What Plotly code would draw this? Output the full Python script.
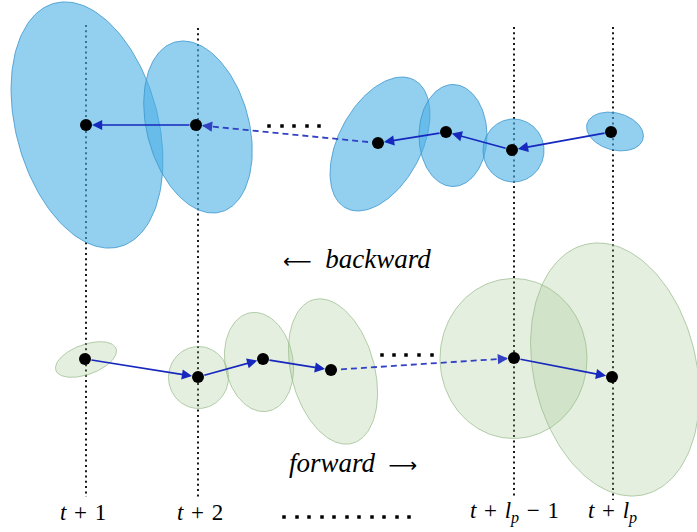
import numpy as np
import plotly.graph_objects as go

W, H = 697, 532

# Vertical time-step guides (x position, top and bottom ends) and their labels
step_x = [86, 198, 514, 613]
step_top = [25, 28, 27, 27]
step_bottom = [497, 498, 498, 500]
label_x = [83, 200, 514, 612]
label_y = 512
SP = "\u2004"
step_labels = [
    f"<i>t</i>{SP}+{SP}1",
    f"<i>t</i>{SP}+{SP}2",
    f"<i>t</i>{SP}+{SP}<i>l</i><sub><i>p</i></sub>{SP}\u2212{SP}1",
    f"<i>t</i>{SP}+{SP}<i>l</i><sub><i>p</i></sub>",
]

# Backward pass: state means and covariance ellipses (semi-axes a, b; tilt of major axis from vertical, deg)
bwd_x = [86, 196, 378, 446, 512, 611]
bwd_y = [125, 125, 143, 132, 150, 132]
bwd_cx = [87, 198, 380, 453, 513.5, 615]
bwd_cy = [125, 127, 144, 135.5, 150.5, 131.5]
bwd_a = [126, 88, 72.6, 51, 31.5, 29]
bwd_b = [71, 51, 41.4, 34, 30.5, 18.5]
bwd_tilt = [15, 15, -28, 0, 0, 75]
bwd_dashed = [False, True, False, False, False]  # link i joins state i+1 -> i

# Forward pass: state means and covariance ellipses
fwd_x = [85, 198, 263, 331, 514, 612]
fwd_y = [359, 377, 359, 370, 358, 377]
fwd_cx = [86, 198.5, 259, 333, 513.5, 615]
fwd_cy = [359.5, 377.5, 362, 371.5, 358.5, 369.5]
fwd_a = [32, 31, 50, 74.4, 80, 128.5]
fwd_b = [15, 30, 34, 41.6, 73.5, 81.4]
fwd_tilt = [110, 0, 10, 15, 0, 13]
fwd_dashed = [False, False, False, True, False]  # link i joins state i -> i+1

# Ellipsis dots
top_dots_x = [269, 282, 294, 307, 319]
top_dots_y = 126
mid_dots_x = [382, 394, 406, 419, 432]
mid_dots_y = 355
axis_dots_x = [284, 297, 309, 322, 334, 347, 359, 372, 384, 397, 409]
axis_dots_y = 517

ARROW = "rgb(22,40,190)"
DASHED = "rgb(50,65,195)"

fig = go.Figure()


def ellipse_xy(cx, cy, a, b, tilt_deg):
    t = np.linspace(0, 2 * np.pi, 181)
    th = np.radians(tilt_deg)
    ux, uy = -np.sin(th), -np.cos(th)   # major axis direction (screen coords)
    vx, vy = np.cos(th), -np.sin(th)    # minor axis direction
    x = cx + a * np.cos(t) * ux + b * np.sin(t) * vx
    y = cy + a * np.cos(t) * uy + b * np.sin(t) * vy
    return x, y


# dotted time-step guides
for x, y0, y1 in zip(step_x, step_top, step_bottom):
    fig.add_trace(go.Scatter(
        x=[x, x], y=[y0, y1], mode="lines",
        line=dict(color="rgb(25,25,25)", width=2, dash="2px,3.3px"),
        hoverinfo="skip"))

# covariance ellipses
for cx, cy, a, b, tl in zip(bwd_cx, bwd_cy, bwd_a, bwd_b, bwd_tilt):
    ex, ey = ellipse_xy(cx, cy, a, b, tl)
    fig.add_trace(go.Scatter(
        x=ex, y=ey, mode="lines", fill="toself",
        fillcolor="rgba(75,175,228,0.6)",
        line=dict(color="rgba(60,150,205,0.8)", width=1),
        hoverinfo="skip"))

for cx, cy, a, b, tl in zip(fwd_cx, fwd_cy, fwd_a, fwd_b, fwd_tilt):
    ex, ey = ellipse_xy(cx, cy, a, b, tl)
    fig.add_trace(go.Scatter(
        x=ex, y=ey, mode="lines", fill="toself",
        fillcolor="rgba(150,190,130,0.25)",
        line=dict(color="rgba(150,185,135,0.7)", width=1),
        hoverinfo="skip"))


# arrows between consecutive states
def add_link(x0, y0, x1, y1, dashed):
    if dashed:
        fig.add_trace(go.Scatter(
            x=[x0, x1], y=[y0, y1], mode="lines",
            line=dict(color=DASHED, width=1.8, dash="6px,4px"),
            hoverinfo="skip"))
        d = np.hypot(x1 - x0, y1 - y0)
        ax = x1 - (x1 - x0) / d * 16
        ay = y1 - (y1 - y0) / d * 16
        fig.add_annotation(x=x1, y=y1, ax=ax, ay=ay, xref="x", yref="y",
                           axref="x", ayref="y", showarrow=True, text="",
                           arrowhead=2, arrowsize=1.2, arrowwidth=1.7,
                           arrowcolor=DASHED, standoff=6)
    else:
        fig.add_annotation(x=x1, y=y1, ax=x0, ay=y0, xref="x", yref="y",
                           axref="x", ayref="y", showarrow=True, text="",
                           arrowhead=2, arrowsize=1.2, arrowwidth=1.7,
                           arrowcolor=ARROW, standoff=6, startstandoff=5)


for i, dashed in enumerate(bwd_dashed):
    add_link(bwd_x[i + 1], bwd_y[i + 1], bwd_x[i], bwd_y[i], dashed)
for i, dashed in enumerate(fwd_dashed):
    add_link(fwd_x[i], fwd_y[i], fwd_x[i + 1], fwd_y[i + 1], dashed)

# state means
fig.add_trace(go.Scatter(x=bwd_x, y=bwd_y, mode="markers",
                         marker=dict(color="black", size=12), hoverinfo="skip"))
fig.add_trace(go.Scatter(x=fwd_x, y=fwd_y, mode="markers",
                         marker=dict(color="black", size=12), hoverinfo="skip"))

# ellipsis dots
for xs, y in ((top_dots_x, top_dots_y), (mid_dots_x, mid_dots_y), (axis_dots_x, axis_dots_y)):
    fig.add_trace(go.Scatter(x=xs, y=[y] * len(xs), mode="markers",
                             marker=dict(color="black", size=3.5, symbol="square"),
                             hoverinfo="skip"))

SERIF = "Liberation Serif"
ARROW_SPAN = '<span style="font-family:DejaVu Sans;font-size:20px">{}</span>'
for x, txt in zip(label_x, step_labels):
    fig.add_annotation(x=x, y=label_y, xref="x", yref="y", text=txt,
                       showarrow=False, font=dict(family=SERIF, size=23, color="black"))

fig.add_annotation(x=357, y=259, xref="x", yref="y", showarrow=False,
                   text=ARROW_SPAN.format("\u27f5") + "\u2002<i>backward</i>",
                   font=dict(family=SERIF, size=27, color="black"))
fig.add_annotation(x=353, y=463, xref="x", yref="y", showarrow=False,
                   text="<i>forward</i>\u2002" + ARROW_SPAN.format("\u27f6"),
                   font=dict(family=SERIF, size=27, color="black"))

fig.update_layout(
    width=W, height=H,
    margin=dict(l=0, r=0, t=0, b=0),
    paper_bgcolor="white", plot_bgcolor="white",
    showlegend=False,
    xaxis=dict(range=[0, W], visible=False, fixedrange=True),
    yaxis=dict(range=[H, 0], visible=False, fixedrange=True),
)

fig.write_html("out.html")
